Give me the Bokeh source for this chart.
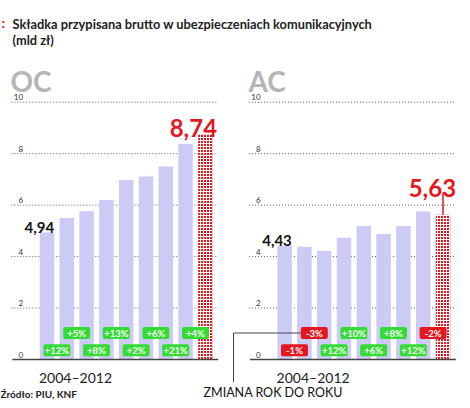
from bokeh.plotting import figure
from bokeh.models import Range1d, Label, ColumnDataSource
from bokeh.core.properties import value
from bokeh.embed import file_html
from bokeh.resources import INLINE

# ---------------- data ----------------
YEARS = list(range(2004, 2013))
PANELS = ["OC", "AC"]
OC_VALUES = [4.94, 5.50, 5.76, 6.20, 6.98, 7.11, 7.50, 8.38, 8.74]
AC_VALUES = [4.43, 4.38, 4.22, 4.73, 5.19, 4.88, 5.19, 5.75, 5.63]
OC_CHANGES = ["+12%", "+5%", "+8%", "+13%", "+2%", "+6%", "+21%", "+4%"]
AC_CHANGES = ["-1%", "-3%", "+12%", "+10%", "+6%", "+8%", "+12%", "-2%"]
TICKS = [0, 2, 4, 6, 8, 10]
TITLE = "Składka przypisana brutto w ubezpieczeniach komunikacyjnych"
UNIT = "(mld zł)"
SOURCE = "Źródło: PIU, KNF"
LEGEND = "ZMIANA ROK DO ROKU"

# ---------------- style / layout ----------------
FONT = value("Lato")
W, H = 462, 400
OFFSETS = [0, 12]          # x offset of each panel (in bar slots)
BAR_W = 0.73
BAR_COLOR = "#cbcbf6"
RED = "#e5161f"
GREEN = "#33dc33"
GRID_COLOR = "#555555"

p = figure(width=W, height=H,
           x_range=Range1d(-2.348, 20.985), y_range=Range1d(-1.593, 13.953),
           x_axis_type=None, y_axis_type=None,
           output_backend="svg", toolbar_location=None,
           min_border=0, outline_line_color=None)
p.background_fill_color = "white"
p.border_fill_color = "white"

series = [OC_VALUES, AC_VALUES]
changes = [OC_CHANGES, AC_CHANGES]

for k, off in enumerate(OFFSETS):
    vals = series[k]
    n = len(vals)
    xs = [off + i for i in range(n)]

    # dotted gridlines
    for t in TICKS[1:]:
        p.line([off - 1.8, off + n - 0.45], [t, t], line_color=GRID_COLOR,
               line_width=1, line_dash="1 2")
    # tick labels
    p.text(x=[off - 1.21] * len(TICKS), y=TICKS, text=[str(t) for t in TICKS],
           text_align="right", text_baseline="alphabetic", y_offset=-5,
           text_font=FONT, text_font_size="8px", text_color="#333333")

    # bars
    p.vbar(x=xs[:-1], top=vals[:-1], bottom=0, width=BAR_W,
           fill_color=BAR_COLOR, line_color=None)
    p.vbar(x=xs[-1:], top=vals[-1:], bottom=0, width=BAR_W,
           fill_color=RED, line_color=None,
           hatch_pattern="+", hatch_color="white", hatch_scale=3, hatch_weight=1)

    # baseline
    p.line([off - 1.75, off + n - 0.35], [0, 0], line_color="#444444", line_width=1.5)

    # first-value label
    p.text(x=[xs[0] + BAR_W / 2], y=[vals[0]],
           text=[f"{vals[0]:.2f}".replace(".", ",")],
           text_align="right", text_baseline="alphabetic", y_offset=-5,
           text_font=FONT, text_font_style="bold", text_font_size="15px",
           text_color="#111111")

    # year range label
    p.text(x=[off + 1.44], y=[-0.70], text=[f"{YEARS[0]}\u2013{YEARS[-1]}"],
           text_align="center", text_baseline="alphabetic",
           text_font=FONT, text_font_size="14px", text_color="#222222")

    # change badges
    ch = changes[k]
    bx = [off + i + 0.5 for i in range(len(ch))]
    by = [0.357 if i % 2 == 0 else 1.03 for i in range(len(ch))]
    bw = 1.36
    bh = 0.47
    cols = [RED if c.startswith("-") else GREEN for c in ch]
    src = ColumnDataSource(dict(
        left=[x - bw / 2 for x in bx], right=[x + bw / 2 for x in bx],
        bottom=[y - bh / 2 for y in by], top=[y + bh / 2 for y in by],
        x=bx, y=by, text=ch, color=cols))
    if k == 1:
        # leader from the "ZMIANA ROK DO ROKU" caption to a badge
        p.line([9.42, bx[1] - bw / 2], [by[1], by[1]], line_color="#444444", line_width=1)
        p.line([9.42, 9.42], [by[1], -0.88], line_color="#444444", line_width=1)
    p.quad(left="left", right="right", bottom="bottom", top="top", source=src,
           fill_color="color", line_color=None, border_radius=2)
    p.text(x="x", y="y", text="text", source=src, text_align="center",
           text_baseline="middle", text_font=FONT, text_font_style="bold",
           text_font_size="9.5px", text_color="white")

# last-value labels
p.text(x=[OFFSETS[0] + len(OC_VALUES) - 1 + 0.59], y=[OC_VALUES[-1]],
       text=[f"{OC_VALUES[-1]:.2f}".replace(".", ",")],
       text_align="right", text_baseline="alphabetic", y_offset=-7,
       text_font=FONT, text_font_style="bold", text_font_size="24px", text_color=RED)
ac_last_x = OFFSETS[1] + len(AC_VALUES) - 1
p.line([ac_last_x, ac_last_x], [AC_VALUES[-1], AC_VALUES[-1] + 0.86],
       line_color=RED, line_width=1.5)
p.text(x=[ac_last_x + 0.66], y=[AC_VALUES[-1]],
       text=[f"{AC_VALUES[-1]:.2f}".replace(".", ",")],
       text_align="right", text_baseline="alphabetic", y_offset=-27,
       text_font=FONT, text_font_style="bold", text_font_size="24px", text_color=RED)

# ---------------- header / footer text (screen units) ----------------
def lab(text, x, y, size, color="#222222", style="normal"):
    p.add_layout(Label(x=x, y=y, x_units="screen", y_units="screen", text=text,
                       text_font="Lato", text_font_size=size, text_font_style=style,
                       text_color=color, text_baseline="alphabetic"))

lab(":", 1, 378, "14px", color=RED, style="bold")
lab(TITLE, 12, 377, "12.8px", style="bold")
lab(UNIT, 12, 361, "12.8px", style="bold")
lab(PANELS[0], 10, 320, "28px", color="#b5b5b5", style="bold")
lab(PANELS[1], 248, 320, "28px", color="#b5b5b5", style="bold")
lab(SOURCE, 0, 7, "10px", style="bold")
lab(LEGEND, 203, 8, "12.5px", color="#111111")

open("out.html", "w").write(file_html(p, INLINE))
